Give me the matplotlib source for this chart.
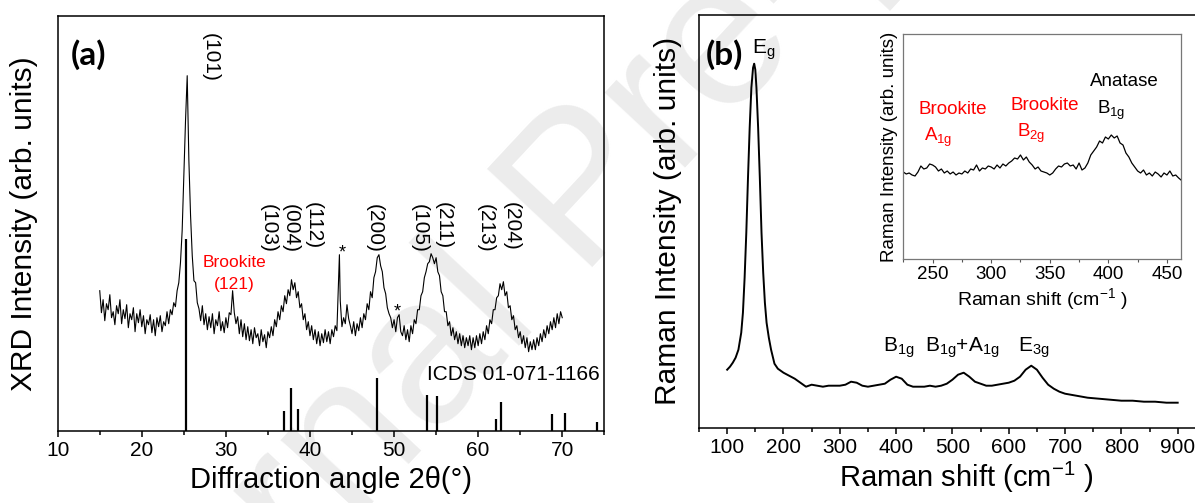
import matplotlib
matplotlib.use("Agg")
import matplotlib.pyplot as plt
from matplotlib.ticker import MultipleLocator

plt.rcParams['font.family'] = ['Liberation Sans', 'DejaVu Sans']
plt.rcParams['mathtext.default'] = 'regular'

# ---------------- data: panel (a) XRD ----------------
xrd_angle = [15.0, 15.2, 15.4, 15.6, 15.8, 16.0, 16.2, 16.4, 16.6, 16.8, 17.0, 17.2, 17.4, 17.6, 17.8,
             18.0, 18.2, 18.4, 18.6, 18.8, 19.0, 19.2, 19.4, 19.6, 19.8, 20.0, 20.2, 20.4, 20.6, 20.8,
             21.0, 21.2, 21.4, 21.6, 21.8, 22.0, 22.2, 22.4, 22.6, 22.8, 23.0, 23.2, 23.4, 23.6, 23.8,
             24.0, 24.2, 24.4, 24.6, 24.8, 25.0, 25.2, 25.4, 25.6, 25.8, 26.0, 26.2, 26.4, 26.6, 26.8,
             27.0, 27.2, 27.4, 27.6, 27.8, 28.0, 28.2, 28.4, 28.6, 28.8, 29.0, 29.2, 29.4, 29.6, 29.8,
             30.0, 30.2, 30.4, 30.6, 30.8, 31.0, 31.2, 31.4, 31.6, 31.8, 32.0, 32.2, 32.4, 32.6, 32.8,
             33.0, 33.2, 33.4, 33.6, 33.8, 34.0, 34.2, 34.4, 34.6, 34.8, 35.0, 35.2, 35.4, 35.6, 35.8,
             36.0, 36.2, 36.4, 36.6, 36.8, 37.0, 37.2, 37.4, 37.6, 37.8, 38.0, 38.2, 38.4, 38.6, 38.8,
             39.0, 39.2, 39.4, 39.6, 39.8, 40.0, 40.2, 40.4, 40.6, 40.8, 41.0, 41.2, 41.4, 41.6, 41.8,
             42.0, 42.2, 42.4, 42.6, 42.8, 43.0, 43.2, 43.4, 43.5, 43.6, 43.8, 44.0, 44.2, 44.4, 44.6,
             44.8, 45.0, 45.2, 45.4, 45.6, 45.8, 46.0, 46.2, 46.4, 46.6, 46.8, 47.0, 47.2, 47.4, 47.6,
             47.8, 48.0, 48.2, 48.4, 48.6, 48.8, 49.0, 49.2, 49.4, 49.6, 49.8, 50.0, 50.2, 50.4, 50.6,
             50.8, 51.0, 51.2, 51.4, 51.6, 51.8, 52.0, 52.2, 52.4, 52.6, 52.8, 53.0, 53.2, 53.4, 53.6,
             53.8, 54.0, 54.2, 54.4, 54.6, 54.8, 55.0, 55.2, 55.4, 55.6, 55.8, 56.0, 56.2, 56.4, 56.6,
             56.8, 57.0, 57.2, 57.4, 57.6, 57.8, 58.0, 58.2, 58.4, 58.6, 58.8, 59.0, 59.2, 59.4, 59.6,
             59.8, 60.0, 60.2, 60.4, 60.6, 60.8, 61.0, 61.2, 61.4, 61.6, 61.8, 62.0, 62.2, 62.4, 62.6,
             62.8, 63.0, 63.2, 63.4, 63.6, 63.8, 64.0, 64.2, 64.4, 64.6, 64.8, 65.0, 65.2, 65.4, 65.6,
             65.8, 66.0, 66.2, 66.4, 66.6, 66.8, 67.0, 67.2, 67.4, 67.6, 67.8, 68.0, 68.2, 68.4, 68.6,
             68.8, 69.0, 69.2, 69.4, 69.6, 69.8, 70.0]
xrd_intensity = [140, 118, 131, 110, 127, 121, 136, 113, 119, 106, 125, 117, 131, 107, 121,
                 112, 126, 103, 117, 111, 123, 99, 117, 108, 121, 104, 115, 97, 111, 106,
                 116, 98, 111, 95, 113, 104, 115, 99, 109, 105, 119, 107, 121, 116, 128,
                 124, 140, 148, 168, 200, 255, 310, 355, 270, 215, 175, 150, 148, 128, 122,
                 110, 125, 106, 117, 101, 114, 103, 117, 97, 111, 105, 119, 100, 109, 98,
                 113, 103, 118, 116, 140, 118, 107, 114, 97, 111, 94, 107, 91, 104, 90,
                 101, 87, 103, 93, 97, 85, 101, 89, 96, 83, 99, 93, 104, 95, 111,
                 104, 119, 111, 125, 119, 135, 127, 141, 135, 151, 141, 148, 133, 139, 123,
                 127, 111, 117, 101, 109, 95, 105, 91, 101, 87, 99, 85, 97, 88, 101,
                 89, 99, 87, 101, 94, 105, 100, 150, 176, 130, 104, 113, 107, 126, 112,
                 105, 97, 109, 95, 107, 100, 113, 103, 117, 111, 127, 121, 139, 133, 153,
                 159, 173, 176, 165, 159, 143, 137, 123, 117, 113, 103, 111, 99, 113, 116,
                 99, 95, 105, 91, 101, 89, 105, 97, 111, 107, 121, 121, 135, 139, 153,
                 159, 167, 169, 177, 173, 167, 173, 159, 155, 139, 135, 119, 119, 105, 109,
                 95, 103, 91, 99, 87, 97, 85, 95, 83, 93, 85, 95, 81, 93, 83,
                 95, 85, 97, 87, 99, 91, 105, 97, 111, 107, 121, 121, 133, 135, 147,
                 141, 149, 135, 139, 123, 125, 111, 115, 101, 105, 93, 99, 87, 95, 83,
                 93, 79, 89, 81, 91, 81, 93, 85, 97, 89, 101, 93, 105, 97, 109,
                 101, 113, 103, 117, 107, 119, 113]

# reference pattern ICDS 01-071-1166 (stick positions and heights)
ref_angle = [25.3, 36.9, 37.8, 38.6, 48.0, 53.9, 55.1, 62.1, 62.7, 68.8, 70.3, 74.1]
ref_height = [192, 20, 43, 22, 53, 36, 35, 12, 29, 17, 18, 9]

hkl_labels = ['(101)', '(103)', '(004)', '(112)', '(200)', '(105)', '(211)', '(213)', '(204)']
hkl_x = [28.2, 35.0, 37.6, 40.4, 47.6, 53.0, 55.9, 60.8, 63.9]
hkl_top = [398, 227, 227, 229, 227, 227, 229, 227, 229]

# ---------------- data: panel (b) Raman ----------------
raman_shift = [100, 105, 110, 115, 120, 125, 128, 131, 134, 137, 140, 143, 146, 148, 150, 152, 155,
               158, 161, 164, 167, 170, 174, 178, 184, 190, 200, 210, 220, 230, 240, 250, 260, 270,
               280, 290, 300, 310, 320, 330, 340, 350, 360, 370, 380, 390, 400, 410, 420, 430, 440,
               450, 460, 470, 480, 490, 500, 510, 520, 530, 540, 550, 560, 570, 580, 590, 600, 610,
               620, 630, 640, 650, 660, 670, 680, 690, 700, 720, 740, 760, 780, 800, 820, 840, 860,
               880, 900]
raman_intensity = [58, 61, 65, 70, 78, 95, 115, 150, 195, 250, 300, 340, 360, 364, 358, 340, 300,
                   250, 195, 155, 125, 105, 90, 78, 64, 59, 55, 52, 49, 45, 41, 43, 42, 41,
                   42, 42, 42, 43, 46, 45, 42, 41, 42, 43, 44, 48, 51, 49, 43, 41, 41,
                   41, 42, 41, 42, 44, 48, 53, 55, 51, 46, 44, 42, 42, 43, 44, 45, 47,
                   51, 58, 62, 58, 50, 43, 39, 36, 34, 32, 30, 29, 28, 27, 27, 26, 26,
                   25, 25]

# inset
inset_shift = [225, 227.5, 230, 232.5, 235, 237.5, 240, 242.5, 245, 247.5, 250, 252.5, 255, 257.5,
               260, 262.5, 265, 267.5, 270, 272.5, 275, 277.5, 280, 282.5, 285, 287.5, 290, 292.5,
               295, 297.5, 300, 302.5, 305, 307.5, 310, 312.5, 315, 317.5, 320, 322.5, 325, 327.5,
               330, 332.5, 335, 337.5, 340, 342.5, 345, 347.5, 350, 352.5, 355, 357.5, 360, 362.5,
               365, 367.5, 370, 372.5, 375, 377.5, 380, 382.5, 385, 387.5, 390, 392.5, 395, 397.5,
               400, 402.5, 405, 407.5, 410, 412.5, 415, 417.5, 420, 422.5, 425, 427.5, 430, 432.5,
               435, 437.5, 440, 442.5, 445, 447.5, 450, 452.5, 455, 457.5, 460, 462]
inset_intensity = [87, 85, 86, 84, 83, 87, 93, 90, 91, 95, 94, 92, 88, 90, 86, 88, 85, 87,
                   84, 86, 85, 88, 86, 90, 89, 94, 88, 91, 90, 93, 92, 90, 94, 91, 95, 93,
                   96, 98, 101, 100, 104, 99, 102, 97, 94, 90, 92, 88, 87, 86, 84, 86, 90,
                   93, 92, 95, 96, 93, 94, 90, 96, 89, 91, 96, 104, 108, 112, 118, 116, 122,
                   120, 124, 121, 123, 116, 114, 106, 102, 96, 92, 88, 86, 89, 84, 86, 83,
                   87, 85, 82, 86, 84, 88, 83, 84, 81, 79]

# ---------------- figure ----------------
W, H = 1195, 503
fig = plt.figure(figsize=(W / 100, H / 100), dpi=100)

# watermark (behind everything)
fig.text(0.49, 0.61, 'Journal Pre-proof', fontsize=150, color='#ececec', rotation=47,
         ha='center', va='center', zorder=-10)

def px(l, b, r, t):
    return [l / W, (H - b) / H, (r - l) / W, (b - t) / H]

# ---- panel (a)
ax = fig.add_axes(px(57.7, 430.7, 604.3, 16.3))
ax.set_facecolor('none')
ax.plot(xrd_angle, xrd_intensity, color='black', lw=0.8)
ax.vlines(ref_angle, 0, ref_height, color='black', lw=1.6)
ax.set_xlim(10, 75)
ax.set_ylim(0, 414.4)
ax.xaxis.set_major_locator(MultipleLocator(10))
ax.xaxis.set_minor_locator(MultipleLocator(5))
ax.set_yticks([])
ax.tick_params(axis='x', which='major', direction='out', length=4.5, width=1.1, labelsize=15, pad=3)
ax.tick_params(axis='x', which='minor', direction='out', length=3, width=1.1)
for s in ax.spines.values():
    s.set_linewidth(1.1)
ax.set_xlabel('Diffraction angle 2θ(°)', fontsize=21, labelpad=4)
ax.set_ylabel('XRD Intensity (arb. units)', fontsize=21.5, labelpad=14)
ax.text(0.024, 0.907, '(a)', transform=ax.transAxes, fontsize=24, fontweight='bold',
        family=['Lato', 'DejaVu Sans'], ha='left', va='center')
for lab, xx, tt in zip(hkl_labels, hkl_x, hkl_top):
    ax.text(xx, tt, lab, rotation=270, fontsize=15, ha='center', va='top')
ax.text(31.0, 168, 'Brookite', color='red', fontsize=12.5, ha='center', va='center')
ax.text(31.0, 146, '(121)', color='red', fontsize=12.5, ha='center', va='center')
ax.text(43.8, 178, '*', fontsize=13, ha='center', va='center')
ax.text(50.4, 119, '*', fontsize=13, ha='center', va='center')
ax.text(74.5, 56, 'ICDS 01-071-1166', fontsize=15, ha='right', va='center')

# ---- panel (b)
bx = fig.add_axes(px(699, 427.7, 1234, 15))
bx.set_facecolor('none')
bx.plot(raman_shift, raman_intensity, color='black', lw=1.4)
bx.set_xlim(50, 1000)
bx.set_ylim(0, 412.7)
bx.xaxis.set_minor_locator(MultipleLocator(50))
bx.set_xticks([100, 200, 300, 400, 500, 600, 700, 800, 900])
bx.set_yticks([])
bx.tick_params(axis='x', which='major', direction='out', length=4.5, width=1.1, labelsize=15, pad=3)
bx.tick_params(axis='x', which='minor', direction='out', length=3, width=1.1)
for s in bx.spines.values():
    s.set_linewidth(1.1)
bx.set_xlabel('Raman shift (cm$^{-1}$ )', fontsize=21, labelpad=2)
bx.set_ylabel('Raman Intensity (arb. units)', fontsize=21.5, labelpad=12)
bx.text(0.012, 0.905, '(b)', transform=bx.transAxes, fontsize=24, fontweight='bold',
        family=['Lato', 'DejaVu Sans'], ha='left', va='center')
bx.text(164, 378, 'E$_g$', fontsize=15, ha='center', va='center')
bx.text(405, 80, 'B$_{1g}$', fontsize=15, ha='center', va='center')
bx.text(518, 80, 'B$_{1g}$+A$_{1g}$', fontsize=15, ha='center', va='center')
bx.text(645, 80, 'E$_{3g}$', fontsize=15, ha='center', va='center')

# ---- inset
ix = fig.add_axes(px(903.3, 259, 1181, 34))
ix.set_facecolor('white')
ix.plot(inset_shift, inset_intensity, color='black', lw=0.9)
ix.set_xlim(225, 462)
ix.set_ylim(0, 225)
ix.xaxis.set_major_locator(MultipleLocator(50))
ix.xaxis.set_minor_locator(MultipleLocator(25))
ix.set_yticks([])
ix.tick_params(axis='x', which='major', direction='out', length=3, width=0.8, labelsize=13.5,
               pad=2, color='#555555')
ix.tick_params(axis='x', which='minor', direction='out', length=2, width=0.8, color='#555555')
for s in ix.spines.values():
    s.set_linewidth(0.9)
    s.set_color('#777777')
ix.set_xlabel('Raman shift (cm$^{-1}$ )', fontsize=14, labelpad=2)
ix.set_ylabel('Raman Intensity (arb. units)', fontsize=13.5, labelpad=4)
ix.text(267, 149, 'Brookite', color='red', fontsize=13.5, ha='center', va='center')
ix.text(255, 122, 'A$_{1g}$', color='red', fontsize=13.5, ha='center', va='center')
ix.text(346, 153, 'Brookite', color='red', fontsize=13.5, ha='center', va='center')
ix.text(334, 126, 'B$_{2g}$', color='red', fontsize=13.5, ha='center', va='center')
ix.text(414, 177, 'Anatase', color='black', fontsize=13.5, ha='center', va='center')
ix.text(402, 149, 'B$_{1g}$', color='black', fontsize=13.5, ha='center', va='center')

fig.savefig('out.png', dpi=100)
